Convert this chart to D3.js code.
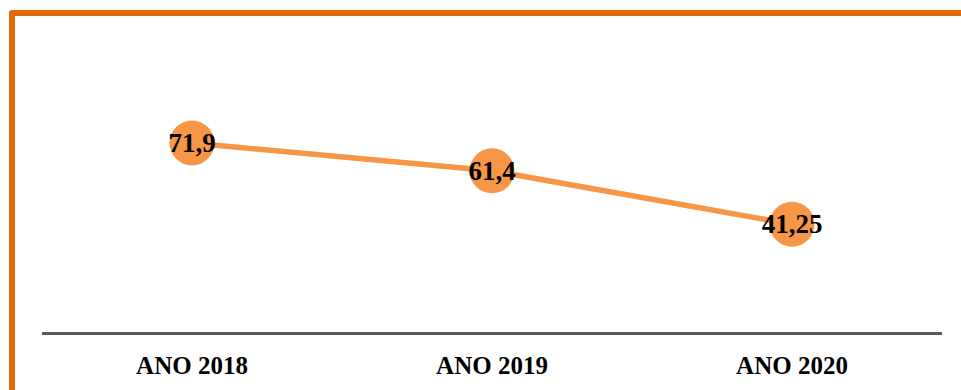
<!DOCTYPE html>
<html>
<head>
<meta charset="utf-8">
<script src="https://cdn.jsdelivr.net/npm/d3@7"></script>
<style>
  html, body { margin: 0; padding: 0; background: #ffffff; }
  svg { display: block; }
</style>
</head>
<body>
<script>
// Chart data
const categories = ["ANO 2018", "ANO 2019", "ANO 2020"];
const values = [71.9, 61.4, 41.25];
const valueLabels = ["71,9", "61,4", "41,25"];

const W = 961, H = 390;
const svg = d3.select("body").append("svg").attr("width", W).attr("height", H);

// Frame accent (top and left edges)
const frameColor = "#E36C0A";
svg.append("path")
  .attr("d", `M12,${H} L12,13 L${W},13`)
  .attr("fill", "none")
  .attr("stroke", frameColor)
  .attr("stroke-width", 6)
  .attr("stroke-linejoin", "round");

// Scales
const x = d3.scaleBand().domain(categories).range([42, 942]);
const y = d3.scaleLinear().domain([0, 80]).range([333.5, 121.5]);
const cx = d => x(d) + x.bandwidth() / 2;

const lineColor = "#F79646";
const font = "'Liberation Serif', 'Times New Roman', serif";

// Category axis (baseline with labels, no ticks)
const axis = svg.append("g")
  .attr("transform", `translate(0,${y(0)})`)
  .call(d3.axisBottom(x).tickSize(0).tickPadding(17));
axis.select(".domain").attr("stroke", "#595959").attr("stroke-width", 3)
  .attr("d", `M42,0H942`);
axis.selectAll("text")
  .attr("font-family", font)
  .attr("font-weight", "bold")
  .attr("font-size", 25)
  .attr("fill", "#000")
  .attr("dy", "0.95em");

// Series line
const pts = categories.map((c, i) => [cx(c), y(values[i])]);
svg.append("path")
  .attr("d", d3.line()(pts))
  .attr("fill", "none")
  .attr("stroke", lineColor)
  .attr("stroke-width", 5.5);

// Markers
svg.selectAll("circle.pt").data(pts).join("circle")
  .attr("class", "pt")
  .attr("cx", d => d[0])
  .attr("cy", d => d[1])
  .attr("r", 22.5)
  .attr("fill", lineColor);

// Value labels
svg.selectAll("text.val").data(pts).join("text")
  .attr("class", "val")
  .attr("x", d => d[0])
  .attr("y", d => d[1] + 9)
  .attr("text-anchor", "middle")
  .attr("font-family", font)
  .attr("font-weight", "bold")
  .attr("font-size", 27)
  .attr("fill", "#000")
  .text((d, i) => valueLabels[i]);
</script>
</body>
</html>
